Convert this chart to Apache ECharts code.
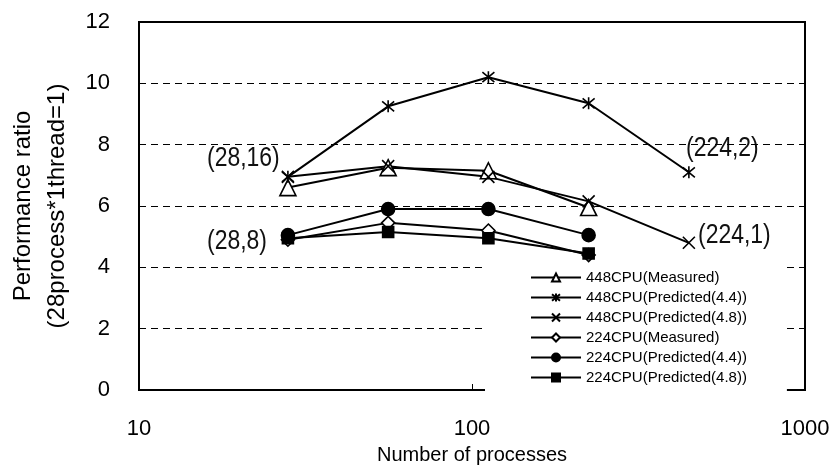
<!DOCTYPE html>
<html><head><meta charset="utf-8">
<script src="https://cdn.jsdelivr.net/npm/echarts@6/dist/echarts.min.js"></script>
<style>html,body{margin:0;padding:0;background:#fff}#c{width:835px;height:466px}</style>
</head><body><div id="c"></div>
<script>
const processes = [28, 56, 112, 224, 448];
const cpu448Measured = [6.6, 7.25, 7.15, 5.95];
const cpu448Pred44 = [6.95, 9.25, 10.2, 9.35, 7.1];
const cpu448Pred48 = [6.95, 7.3, 6.95, 6.15, 4.8];
const cpu224Measured = [4.9, 5.45, 5.2, 4.4];
const cpu224Pred44 = [5.05, 5.9, 5.9, 5.05];
const cpu224Pred48 = [4.95, 5.15, 4.95, 4.45];
const seriesNames = ['448CPU(Measured)', '448CPU(Predicted(4.4))', '448CPU(Predicted(4.8))',
  '224CPU(Measured)', '224CPU(Predicted(4.4))', '224CPU(Predicted(4.8))'];
const annotations = ['(28,16)', '(28,8)', '(224,2)', '(224,1)'];

const FONT = '"Liberation Sans", Arial, sans-serif';
const ASTERISK = 'path://M0,0L10,10M10,0L0,10M5,-1L5,11';
const CROSS = 'path://M0,0L10,10M10,0L0,10';

function pts(vals) { return vals.map((v, i) => [processes[i], v]); }

const defs = [
  { data: cpu448Measured, symbol: 'triangle', size: 16, fill: '#fff' },
  { data: cpu448Pred44, symbol: ASTERISK, size: 12, fill: 'none' },
  { data: cpu448Pred48, symbol: CROSS, size: 12, fill: 'none' },
  { data: cpu224Measured, symbol: 'diamond', size: 13, fill: '#fff' },
  { data: cpu224Pred44, symbol: 'circle', size: 13, fill: '#000' },
  { data: cpu224Pred48, symbol: 'rect', size: 11, fill: '#000' }
];

const series = defs.map((d, i) => ({
  name: seriesNames[i],
  type: 'line',
  data: pts(d.data),
  symbol: d.symbol,
  symbolSize: d.size,
  showAllSymbol: true,
  lineStyle: { color: '#000', width: 2 },
  itemStyle: { color: d.fill, borderColor: '#000', borderWidth: 1.6 },
  emphasis: { disabled: true },
  animation: false
}));

function annot(text, x, y) {
  return {
    type: 'text', x: x, y: y, scaleX: 0.82,
    style: { text: text, font: '28px ' + FONT, fill: '#111', verticalAlign: 'middle', align: 'left' }
  };
}

const chart = echarts.init(document.getElementById('c'), null, { renderer: 'canvas' });
chart.setOption({
  animation: false,
  backgroundColor: '#fff',
  grid: { left: 139, right: 30, top: 22, bottom: 76, show: true, borderColor: '#000', borderWidth: 2,
    backgroundColor: 'transparent', containLabel: false, outerBoundsMode: 'none' },
  xAxis: {
    type: 'log', logBase: 10, min: 10, max: 1000,
    name: 'Number of processes', nameLocation: 'middle', nameGap: 55,
    nameTextStyle: { fontSize: 20, fontFamily: FONT, color: '#000' },
    axisLine: { lineStyle: { color: '#000', width: 2 } },
    axisTick: { show: true, inside: true, length: 6, lineStyle: { color: '#000', width: 1 } },
    axisLabel: { fontSize: 22, fontFamily: FONT, color: '#000', margin: 28, formatter: v => String(v) },
    splitLine: { show: false },
    minorTick: { show: false }
  },
  yAxis: {
    type: 'value', min: 0, max: 12, interval: 2,
    name: 'Performance ratio\n(28process*1thread=1)', nameLocation: 'middle', nameGap: 65,
    nameTextStyle: { fontSize: 24, fontFamily: FONT, color: '#000', lineHeight: 34 },
    axisLine: { show: true, lineStyle: { color: '#000', width: 2 } },
    axisTick: { show: false },
    axisLabel: { fontSize: 22, fontFamily: FONT, color: '#000', margin: 29 },
    splitLine: { show: true, lineStyle: { color: '#000', width: 1, type: [7, 5] } }
  },
  legend: {
    orient: 'vertical', left: 485, top: 264,
    padding: [6, 40, 6, 45],
    backgroundColor: '#fff',
    itemWidth: 50, itemHeight: 10, itemGap: 5,
    textStyle: { fontSize: 15, fontFamily: FONT, color: '#000' },
    data: seriesNames,
    selectedMode: false
  },
  graphic: [
    annot(annotations[0], 207, 158),
    annot(annotations[1], 207, 241),
    annot(annotations[2], 686, 148),
    annot(annotations[3], 698, 235)
  ],
  series: series
});
</script>
</body></html>
